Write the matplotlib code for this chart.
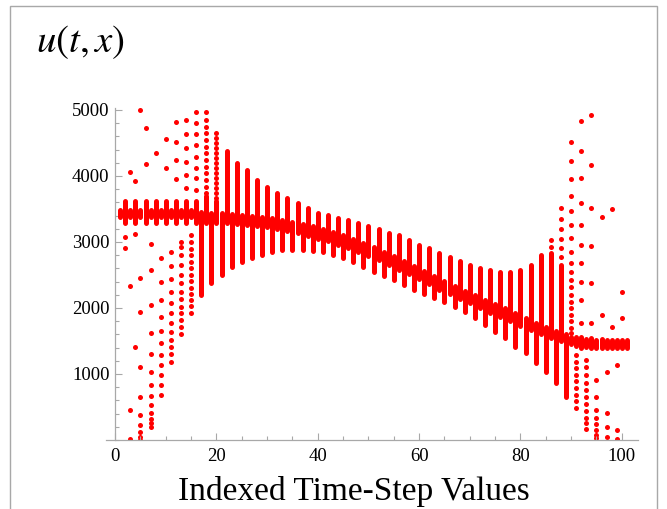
import matplotlib.pyplot as plt
from matplotlib.patches import Rectangle
from matplotlib.ticker import MultipleLocator

# centre of the main band, odd time steps 1..101
band_t = list(range(1, 102, 2))
band_u = [3430, 3425, 3420, 3420, 3415, 3410, 3405, 3400, 3395, 3385,
          3375, 3365, 3355, 3340, 3320, 3300, 3275, 3245, 3210, 3175,
          3135, 3090, 3040, 2985, 2925, 2860, 2795, 2725, 2650, 2575,
          2500, 2420, 2345, 2270, 2200, 2130, 2065, 2000, 1935, 1865,
          1795, 1720, 1650, 1590, 1540, 1500, 1475, 1460, 1455, 1450, 1450]

# dense stacks on even steps (low end, high end)
even_t = list(range(2, 101, 2))
even_lo = [3290, 3290, 3290, 3290, 3290, 3290, 3290, 3290, 3290, 3290,
           3290, 3270, 3260, 3240, 3220, 3190, 3160, 3130, 3090, 3050,
           3010, 2960, 2910, 2850, 2790, 2720, 2650, 2580, 2510, 2440,
           2360, 2280, 2210, 2140, 2070, 2000, 1930, 1870, 1800, 1730,
           1660, 1600, 1550, 1500, 1450, 1400, 1400, 1400, 1400, 1400]
even_hi = [3620, 3620, 3620, 3620, 3620, 3620, 3620, 3620, 3700, 3620,
           4378, 4201, 4090, 3939, 3828, 3737, 3662, 3586, 3515, 3444,
           3409, 3359, 3333, 3292, 3242, 3192, 3141, 3106, 3030, 2954,
           2904, 2828, 2767, 2715, 2651, 2601, 2576, 2550, 2550, 2576,
           2651, 2803, 2833, 2650, 1560, 1560, 1540, 1530, 1520, 1510]

# dense stacks on odd steps (low end, high end)
odd_t = list(range(1, 102, 2))
odd_lo = [3380, 3380, 3380, 3380, 3380, 3380, 3380, 3380, 2197, 2374,
          2500, 2626, 2702, 2752, 2803, 2853, 2879, 2879, 2879, 2870,
          2850, 2800, 2750, 2690, 2620, 2550, 2480, 2420, 2350, 2280,
          2210, 2150, 2090, 2020, 1944, 1844, 1742, 1641, 1540, 1414,
          1313, 1162, 1035, 863, 656, 1420, 1410, 1400, 1400, 1400, 1400]
odd_hi = [3480, 3480, 3480, 3480, 3480, 3480, 3480, 3480, 3450, 3440,
          3435, 3425, 3415, 3400, 3380, 3360, 3335, 3305, 3270, 3235,
          3195, 3150, 3100, 3045, 2985, 2920, 2855, 2785, 2710, 2635,
          2560, 2480, 2405, 2330, 2260, 2190, 2125, 2060, 1995, 1925,
          1855, 1780, 1710, 1650, 1600, 1560, 1535, 1520, 1510, 1510, 1510]

# scattered outliers, per time step
spread = {
    2: [3080, 2904],
    3: [4065, 2333, 454, 15],
    4: [3929, 3121, 1414],
    5: [5000, 2449, 1934, 1111, 656, 379, 227, 126, 50, 0],
    6: [4722, 4181],
    7: [2970, 2576, 2045, 1616, 1298, 1035, 833, 666, 530, 404, 320, 260, 202],
    8: [4343],
    9: [2752, 2399, 2121, 1868, 1656, 1465, 1288, 1136, 985, 833, 682],
    10: [4560, 4116],
    11: [2853, 2636, 2434, 2247, 2080, 1919, 1777, 1641, 1515, 1404, 1303, 1187],
    12: [4822, 4520, 4242, 3950],
    13: [3000, 2920, 2803, 2651, 2500, 2374, 2247, 2131, 2020, 1919, 1818, 1707, 1606],
    14: [4848, 4636, 4419, 4217, 4015, 3820],
    15: [3100, 3000, 2900, 2800, 2700, 2600, 2505, 2410, 2310, 2215, 2120, 2025, 1929],
    16: [4974, 4798, 4636, 4469, 4292, 4116, 3964, 3788],
    18: [4974, 4848, 4747, 4646, 4545, 4444, 4343, 4242, 4141, 4040, 3939, 3838, 3737],
    20: [4646, 4570, 4495, 4420, 4345, 4270, 4195, 4120, 4045, 3970, 3895, 3820,
         3745, 3670],
    86: [2929, 3030],
    88: [2777, 2904, 3040, 3192, 3343, 3510],
    90: [4510, 4232, 3954, 3701, 3474, 3257, 3056, 2853, 2677, 2550, 2424, 2313,
         2197, 2096, 1995, 1900, 1800, 1700, 1620],
    91: [1288, 1188, 1088, 988, 888, 788, 688, 588, 488],
    92: [4837, 4378, 3969, 3595, 3257, 2954, 2677, 2399, 2121, 1768],
    93: [1212, 1100, 985, 870, 760, 650, 545, 440, 340, 250, 170],
    94: [4924, 4161, 3510, 2939, 2374, 1768],
    95: [909, 651, 455, 328, 240, 150, 75, 25],
    96: [3374, 1894],
    97: [1035, 409, 202, 50],
    98: [3505, 1717],
    99: [1136, 152, 10],
    100: [1844, 2242],
}

RED = '#ff0000'
GREY = '#a8a8a8'

plt.rcParams['mathtext.fontset'] = 'stix'

fig = plt.figure(figsize=(6.67, 5.09), dpi=100)
fig.patches.append(Rectangle((10 / 667, -0.1), 647 / 667, 1.1 - 6 / 509,
                             transform=fig.transFigure, fill=False,
                             edgecolor=GREY, linewidth=1.0))

ax = fig.add_axes([105.5 / 667, 69 / 509, 532.5 / 667, 332 / 509])

lw = 3.6
ax.vlines(even_t, even_lo, even_hi, colors=RED, linewidth=lw, capstyle='round')
ax.vlines(odd_t, odd_lo, odd_hi, colors=RED, linewidth=lw, capstyle='round')
ax.scatter(band_t, band_u, s=13, color=RED, linewidths=0)
for t, vals in spread.items():
    ax.scatter([t] * len(vals), vals, s=13, color=RED, linewidths=0)

ax.set_xlim(-1.9, 103.2)
ax.set_ylim(0, 5030)

for side in ['top', 'right']:
    ax.spines[side].set_visible(False)
ax.spines['left'].set_position(('data', 0))
ax.spines['left'].set_bounds(0, 5030)
for side in ['left', 'bottom']:
    ax.spines[side].set_color(GREY)
    ax.spines[side].set_linewidth(0.9)

ax.set_xticks([0, 20, 40, 60, 80, 100])
ax.xaxis.set_minor_locator(MultipleLocator(5))
ax.set_yticks([1000, 2000, 3000, 4000, 5000])
ax.yaxis.set_minor_locator(MultipleLocator(200))
ax.tick_params(which='both', direction='in', color=GREY, width=0.8,
               labelsize=13.5, labelcolor='black')
ax.tick_params(which='major', length=5)
ax.tick_params(which='minor', length=3)
ax.tick_params(axis='x', which='major', pad=6)
ax.tick_params(axis='y', which='major', pad=4)
for lab in ax.get_xticklabels() + ax.get_yticklabels():
    lab.set_family('Liberation Serif')

fig.text(354 / 667, 1 - 500 / 509, 'Indexed Time-Step Values',
         family='Liberation Serif', fontsize=24, ha='center', va='baseline')

fig.text(36 / 667, 1 - 42 / 509, r'$u(t,x)$', fontsize=28, va='center', ha='left')

fig.savefig('out.png', dpi=100)
